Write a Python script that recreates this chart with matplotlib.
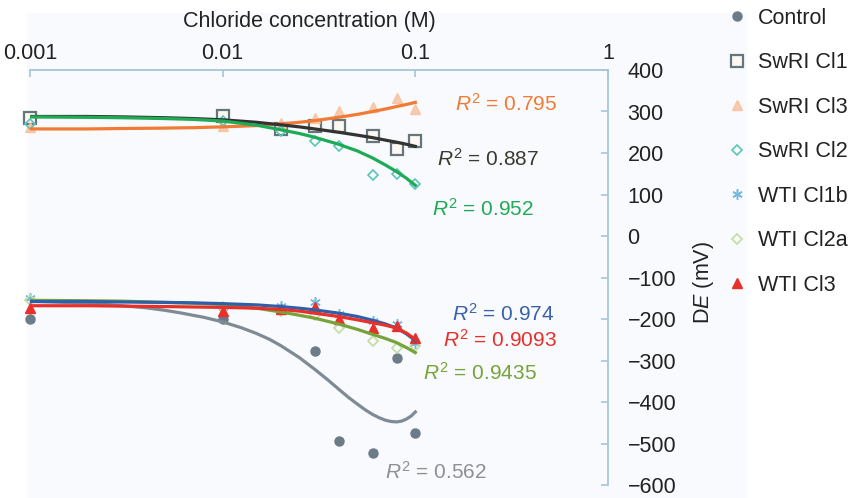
import numpy as np
import matplotlib
matplotlib.use("Agg")
import matplotlib.pyplot as plt
from matplotlib import ticker

plt.rcParams['font.family'] = ['Liberation Sans', 'DejaVu Sans']
plt.rcParams['mathtext.fontset'] = 'custom'
plt.rcParams['mathtext.rm'] = 'Liberation Sans'
plt.rcParams['mathtext.it'] = 'Liberation Sans:italic'

# measured points (chloride concentration in M, DE in mV)
conc = [0.001, 0.01, 0.02, 0.03, 0.04, 0.06, 0.08, 0.1]
control_x = [0.001, 0.01, 0.03, 0.04, 0.06, 0.08, 0.1]
control = [-201, -201, -276, -494, -523, -295, -475]
swri_cl1 = [285, 288, 259, 266, 264, 240, 209, 228]
swri_cl3 = [262, 266, 272, 285, 300, 312, 333, 305]
swri_cl2 = [271, 278, 252, 230, 216, 146, 149, 125]
wti_cl1b = [-150, -170, -168, -158, -187, -205, -213, -258]
wti_cl2a = [-155, -172, -180, -190, -221, -252, -271, -264]
wti_cl3 = [-173, -181, -175, -172, -201, -221, -216, -245]

# trendlines
trend_x = [0.001, 0.002, 0.003, 0.005, 0.007, 0.01, 0.015, 0.02, 0.025, 0.03, 0.04, 0.05,
           0.06, 0.07, 0.08, 0.09, 0.1]
trend_swri_cl1 = [288, 288, 287, 285, 283, 280, 274, 268, 263, 258, 250, 243, 237, 231, 226, 221, 216]
trend_swri_cl3 = [258, 258, 259, 260, 261, 263, 266, 270, 274, 278, 286, 293, 300, 306, 312, 317, 322]
trend_swri_cl2 = [287, 286, 285, 283, 281, 277, 267, 256, 247, 238, 221, 205, 188, 171, 155, 139, 122]
trend_wti_cl1b = [-158, -158, -159, -160, -161, -163, -166, -170, -174, -178, -186, -194,
                  -203, -212, -222, -236, -252]
trend_wti_cl3 = [-168, -168, -169, -170, -171, -172, -174, -177, -181, -186, -194, -202,
                 -209, -215, -222, -234, -249]
trend_wti_cl2a = [-155, -156, -157, -160, -162, -165, -174, -183, -191, -198, -212, -225,
                  -237, -247, -257, -269, -281]

control_trend_x = [0.001, 0.002, 0.003, 0.004, 0.005, 0.006, 0.007, 0.008, 0.01, 0.0125, 0.015,
                   0.0175, 0.02, 0.025, 0.03, 0.035, 0.04, 0.045, 0.05, 0.055, 0.06, 0.065,
                   0.07, 0.075, 0.08, 0.085, 0.09, 0.095, 0.1]
trend_control = [-157, -162, -168, -173, -179, -185, -191, -196, -207, -221, -235,
                 -249, -264, -293, -321, -346, -369, -389, -405, -419, -430, -438,
                 -444, -447, -448, -446, -441, -434, -424]

# R^2 labels: text, x, y, colour
r2_text = ['0.795', '0.887', '0.952', '0.974', '0.9093', '0.9435', '0.562']
r2_x = [0.161, 0.129, 0.122, 0.155, 0.139, 0.109, 0.0695]
r2_y = [319, 185, 65, -187, -251, -329, -568]
r2_col = ['#f07b35', '#3a3a30', '#1faa55', '#3b62a8', '#e8302a', '#77a33a', '#8e9194']

xticks = [0.001, 0.01, 0.1, 1]
xticklabels = ['0.001', '0.01', '0.1', '1']
yticks = np.arange(-600, 401, 100)

axis_col = '#a6c6d8'

fig = plt.figure(figsize=(8.48, 4.98), dpi=100)
fig.patches.append(plt.Rectangle((27/848, 0), 720/848, 485/498, transform=fig.transFigure,
                                 facecolor='#f8fafd', edgecolor='none', zorder=-10))
ax = fig.add_axes([30/848, 13/498, 578/848, 415/498])
ax.set_facecolor('none')
ax.set_zorder(2)

# markers first, trendlines on top
mk = dict(ls='none', clip_on=False)
ax.plot(control_x, control, 'o', color='#6b7b87', ms=6.5, label='Control', **mk)
ax.plot(conc, swri_cl1, 's', mfc='#fdf8f2', mec='#66767c', mew=1.6, ms=8, label='SwRI Cl1', **mk)
ax.plot(conc, swri_cl3, '^', color='#f7c09a', alpha=0.8, ms=7.5, label='SwRI Cl3', **mk)
ax.plot(conc, swri_cl2, 'D', mfc='none', mec='#5cc4bb', mew=1.2, ms=5.5, label='SwRI Cl2', **mk)
ax.plot(conc, wti_cl1b, marker=(6, 2, 0), color='#5ab0e0', alpha=0.85, mew=1.1, ms=7.5,
        label='WTI Cl1b', **mk)
ax.plot(conc, wti_cl2a, 'D', mfc='none', mec='#c2dca2', mew=1.2, ms=5.5, label='WTI Cl2a', **mk)
ax.plot(conc, wti_cl3, '^', color='#e8312a', ms=7.5, label='WTI Cl3', **mk)

lw = 2.3
ax.plot(control_trend_x, trend_control, color='#7f8b94', lw=lw)
ax.plot(trend_x, trend_wti_cl2a, color='#77a33a', lw=lw)
ax.plot(trend_x, trend_wti_cl1b, color='#2f5fa8', lw=lw)
ax.plot(trend_x, trend_wti_cl3, color='#e8302a', lw=lw)
ax.plot(trend_x, trend_swri_cl3, color='#f07b35', lw=lw)
ax.plot(trend_x, trend_swri_cl1, color='#333333', lw=lw)
ax.plot(trend_x, trend_swri_cl2, color='#1faa55', lw=lw)

for t, x, y, c in zip(r2_text, r2_x, r2_y, r2_col):
    ax.text(x, y, r'$R^2$ = ' + t, color=c, fontsize=15, ha='left', va='center')

ax.set_xscale('log')
ax.set_xlim(0.001, 1)
ax.set_ylim(-600, 400)
ax.xaxis.tick_top()
ax.xaxis.set_label_position('top')
ax.set_xticks(xticks)
ax.xaxis.set_major_formatter(ticker.FixedFormatter(xticklabels))
ax.xaxis.set_minor_locator(ticker.NullLocator())
ax.yaxis.tick_right()
ax.set_yticks(yticks)

for s in ['left', 'bottom']:
    ax.spines[s].set_visible(False)
for s in ['top', 'right']:
    ax.spines[s].set_color(axis_col)
    ax.spines[s].set_linewidth(1.3)

ax.tick_params(axis='x', direction='in', length=5, width=1.2, color=axis_col,
               labelsize=15.5, pad=4, labelcolor='#222222')
ax.tick_params(axis='y', direction='in', length=5, width=1.2, color=axis_col,
               labelsize=15.5, pad=14, labelcolor='#222222')
for lab in ax.get_yticklabels():
    lab.set_horizontalalignment('left')

ax.set_xlabel('Chloride concentration (M)', fontsize=15.5, labelpad=12, color='#222222')
ax.xaxis.label.set_x(0.483)
fig.text(703/848, 1 - 282/498, r'D$\mathit{E}$ (mV)', rotation=90, fontsize=15.5,
         ha='center', va='center', color='#222222')

ax.legend(loc='upper left', bbox_to_anchor=(726/848, 1 - 8/498), bbox_transform=fig.transFigure,
          frameon=False, fontsize=15.5, handlelength=1.0, handletextpad=0.48,
          labelspacing=1.09, borderpad=0, borderaxespad=0, labelcolor='#222222')

fig.savefig('out.png', dpi=100)
